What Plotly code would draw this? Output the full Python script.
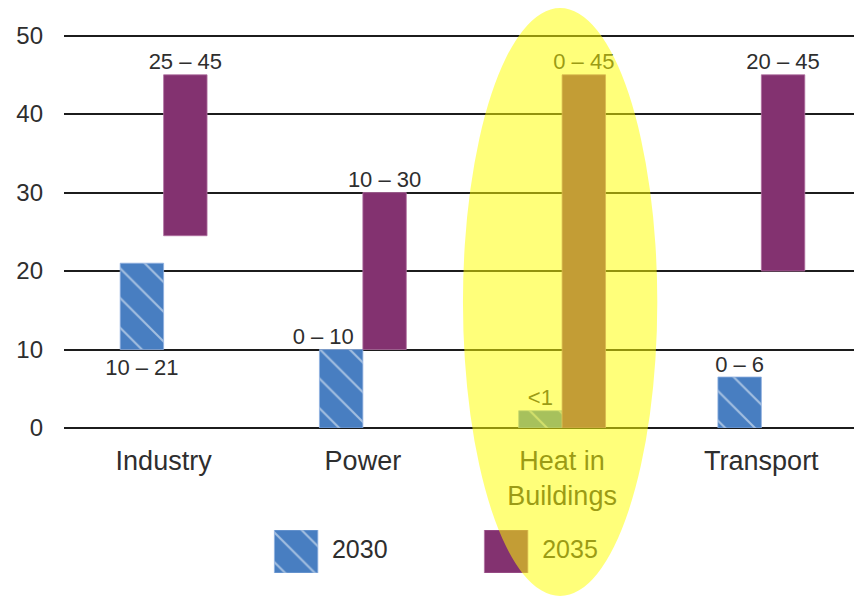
import plotly.graph_objects as go

# ---- data ----
categories = ["Industry", "Power", "Heat in<br>Buildings", "Transport"]
series = ["2030", "2035"]
low_2030 = [10, 0, 0, 0]
high_2030 = [21, 10, 2.2, 6.5]
labels_2030 = ["10 – 21", "0 – 10", "<1", "0 – 6"]
low_2035 = [24.5, 10, 0, 20]
high_2035 = [45, 30, 45, 45]
labels_2035 = ["25 – 45", "10 – 30", "0 – 45", "20 – 45"]
y_ticks = [0, 10, 20, 30, 40, 50]

# ---- style ----
BLUE = "#487ec1"
PURPLE = "#833270"
TEXT = "#2e2e2e"
FONT = "Liberation Sans, Arial, sans-serif"
W = 0.218          # bar width (category units)
OFF = W / 2        # offset of each series from category centre

idx = list(range(len(categories)))
x30 = [i - OFF for i in idx]
x35 = [i + OFF for i in idx]

hatch = dict(shape="\\", fgcolor="white", size=21, solidity=0.1, fillmode="overlay")

fig = go.Figure()

# 2030 bars (hatched)
fig.add_trace(go.Bar(
    x=x30, y=[h - l for h, l in zip(high_2030, low_2030)], base=low_2030, width=W,
    marker=dict(color=BLUE, pattern=hatch, line=dict(color="#8fb0e0", width=0.8)),
    showlegend=False, hoverinfo="skip"))
# 2035 bars
fig.add_trace(go.Bar(
    x=x35, y=[h - l for h, l in zip(high_2035, low_2035)], base=low_2035, width=W,
    marker=dict(color=PURPLE, line=dict(color="#b0709f", width=0.8)),
    showlegend=False, hoverinfo="skip"))

# value labels
pos30, ly30, lx30 = [], [], []
for i in idx:
    if i == 0:
        pos30.append("bottom center"); ly30.append(low_2030[i] - 1.2); lx30.append(x30[i])
    elif i == 1:
        pos30.append("top center"); ly30.append(high_2030[i]); lx30.append(x30[i] - 0.09)
    else:
        pos30.append("top center"); ly30.append(high_2030[i]); lx30.append(x30[i])
fig.add_trace(go.Scatter(
    x=lx30, y=ly30, mode="text", text=labels_2030, textposition=pos30,
    textfont=dict(family=FONT, size=22, color=TEXT), showlegend=False, hoverinfo="skip"))
fig.add_trace(go.Scatter(
    x=x35, y=high_2035, mode="text", text=labels_2035, textposition="top center",
    textfont=dict(family=FONT, size=22, color=TEXT), showlegend=False, hoverinfo="skip"))

# ---- custom legend (second axis pair) ----
leg_sq_x = [0.665, 1.719]
leg_txt_x = [0.845, 1.90]
fig.add_trace(go.Bar(
    x=[leg_sq_x[0]], y=[1], base=[0], width=W, xaxis="x2", yaxis="y2",
    marker=dict(color=BLUE, pattern=hatch, line=dict(color="#8fb0e0", width=0.8)),
    showlegend=False, hoverinfo="skip"))
fig.add_trace(go.Bar(
    x=[leg_sq_x[1]], y=[1], base=[0], width=W, xaxis="x2", yaxis="y2",
    marker=dict(color=PURPLE, line=dict(color="#b0709f", width=0.8)),
    showlegend=False, hoverinfo="skip"))
fig.add_trace(go.Scatter(
    x=leg_txt_x, y=[0.5, 0.5], mode="text", text=series, textposition="middle right",
    textfont=dict(family=FONT, size=25, color=TEXT), xaxis="x2", yaxis="y2",
    showlegend=False, hoverinfo="skip"))

# highlight ellipse around "Heat in Buildings"
fig.add_shape(type="circle", xref="paper", yref="paper",
              x0=0.505, x1=0.751, y0=-0.0331, y1=1.0478,
              fillcolor="rgba(255,255,0,0.52)", line=dict(width=0), layer="above")

fig.update_layout(
    width=854, height=598,
    margin=dict(l=64, r=0, t=34, b=20),
    paper_bgcolor="white", plot_bgcolor="white",
    barmode="overlay",
    font=dict(family=FONT, color=TEXT),
    xaxis=dict(range=[-0.5, 3.465], domain=[0, 1], tickvals=idx, ticktext=categories,
               showgrid=False, zeroline=False, showline=False, ticks="",
               tickfont=dict(size=27, color=TEXT), ticklabelstandoff=14, fixedrange=True),
    yaxis=dict(range=[0, 50.2], domain=[0.2757, 1], tickvals=y_ticks,
               showgrid=True, gridcolor="#1c1c1c", gridwidth=1.6,
               zeroline=True, zerolinecolor="#1c1c1c", zerolinewidth=1.6,
               showline=False, ticks="", tickfont=dict(size=24, color=TEXT),
               ticklabelstandoff=20, fixedrange=True),
    xaxis2=dict(range=[-0.5, 3.465], domain=[0, 1], anchor="y2", visible=False),
    yaxis2=dict(range=[0, 1], domain=[0.00919, 0.08824], anchor="x2", visible=False),
)

fig.write_html("out.html")
